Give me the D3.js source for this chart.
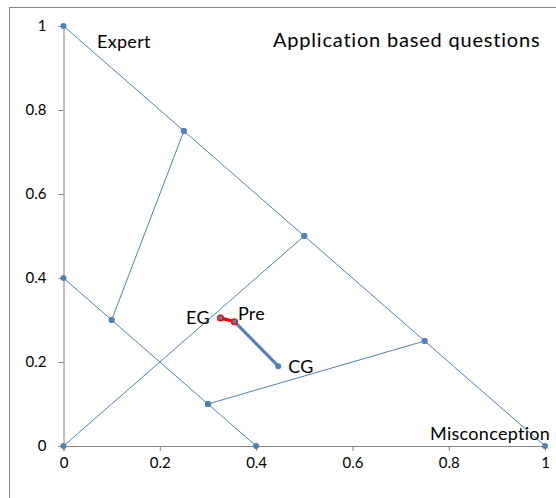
<!DOCTYPE html>
<html>
<head>
<meta charset="utf-8">
<script src="https://cdn.jsdelivr.net/npm/d3@7"></script>
<style>
  html, body { margin: 0; padding: 0; background: #fff; }
  svg { display: block; font-family: Lato, "Open Sans", sans-serif; }
</style>
</head>
<body>
<svg id="chart" width="556" height="498"></svg>
<script>
// Triangle frame: each array is one polyline series [x, y]
const outerEdge   = [[0, 1], [0.25, 0.75], [0.5, 0.5], [0.75, 0.25], [1, 0]];
const innerEdge   = [[0, 0.4], [0.1, 0.3], [0.3, 0.1], [0.4, 0]];
const expertSpoke = [[0.1, 0.3], [0.25, 0.75]];
const diagonal    = [[0, 0], [0.5, 0.5]];
const misconSpoke = [[0.3, 0.1], [0.75, 0.25]];

// Group positions
const groupNames  = ["EG", "Pre", "CG"];
const groupX      = [0.326, 0.355, 0.446];
const groupY      = [0.305, 0.296, 0.190];

// Axis ticks
const tickValues  = [0, 0.2, 0.4, 0.6, 0.8, 1];
const tickLabels  = ["0", "0.2", "0.4", "0.6", "0.8", "1"];

const blue = "#4F81BD";
const axisGray = "#868686";
const font = "Lato, 'Open Sans', sans-serif";

const svg = d3.select("#chart");

// chart frame
svg.append("rect")
  .attr("x", 9.5).attr("y", 7.5)
  .attr("width", 560).attr("height", 500)
  .attr("fill", "none").attr("stroke", "#888").attr("stroke-width", 1);

const x = d3.scaleLinear().domain([0, 1]).range([63.5, 545]);
const y = d3.scaleLinear().domain([0, 1]).range([446, 26]);

// axes
const fmt = d => tickLabels[tickValues.indexOf(d)];
const xAxis = svg.append("g")
  .attr("transform", `translate(0,${y(0)})`)
  .call(d3.axisBottom(x).tickValues(tickValues).tickFormat(fmt).tickSize(5).tickPadding(6));
const yAxis = svg.append("g")
  .attr("transform", `translate(${x(0)},0)`)
  .call(d3.axisLeft(y).tickValues(tickValues).tickFormat(fmt).tickSize(5).tickPadding(12));
[xAxis, yAxis].forEach(g => {
  g.select(".domain").attr("stroke", axisGray);
  g.selectAll(".tick line").attr("stroke", axisGray);
  g.selectAll(".tick text").attr("fill", "#000").style("font-size", "15px")
    .style("font-family", font);
});

const line = d3.line().x(d => x(d[0])).y(d => y(d[1]));

// frame polylines
const frameSeries = [outerEdge, innerEdge, expertSpoke, diagonal, misconSpoke];
svg.append("g").selectAll("path").data(frameSeries).join("path")
  .attr("d", line)
  .attr("fill", "none").attr("stroke", blue).attr("stroke-width", 1);

// frame markers
const framePoints = frameSeries.flat();
svg.append("g").selectAll("circle").data(framePoints).join("circle")
  .attr("cx", d => x(d[0])).attr("cy", d => y(d[1]))
  .attr("r", 3).attr("fill", blue);

const groups = groupNames.map((n, i) => ({ name: n, x: groupX[i], y: groupY[i] }));
const eg = groups[0], pre = groups[1], cg = groups[2];
const gl = d3.line().x(d => x(d.x)).y(d => y(d.y));

// Pre -> CG shift
svg.append("path").attr("d", gl([pre, cg]))
  .attr("fill", "none").attr("stroke", blue).attr("stroke-width", 3.2);
svg.append("circle").attr("cx", x(cg.x)).attr("cy", y(cg.y)).attr("r", 3).attr("fill", blue);

// Pre -> EG shift
svg.append("path").attr("d", gl([eg, pre]))
  .attr("fill", "none").attr("stroke", "#FF0000").attr("stroke-width", 3.2);
svg.append("g").selectAll("circle").data([eg, pre]).join("circle")
  .attr("cx", d => x(d.x)).attr("cy", d => y(d.y))
  .attr("r", 2.8).attr("fill", blue).attr("stroke", "#FF0000").attr("stroke-width", 1.4);

// labels
function label(txt, px, py, size, anchor, spacing) {
  svg.append("text").attr("x", px).attr("y", py)
    .attr("text-anchor", anchor || "start")
    .attr("font-family", font).attr("font-size", size).attr("fill", "#000")
    .attr("letter-spacing", spacing || 0)
    .text(txt);
}
label("EG", x(eg.x) - 10.5, y(eg.y) + 6.5, 18, "end", 0.3);
label("Pre", x(pre.x) + 3.5, y(pre.y) - 1.5, 18, "start", 0.3);
label("CG", x(cg.x) + 10, y(cg.y) + 7, 18, "start", 0.3);
label("Expert", 97, 48, 18, "start", 0.3);
label("Misconception", 430, 440, 18, "start", 0.3);
label("Application based questions", 273, 47, 20, "start", 0.8);
</script>
</body>
</html>
